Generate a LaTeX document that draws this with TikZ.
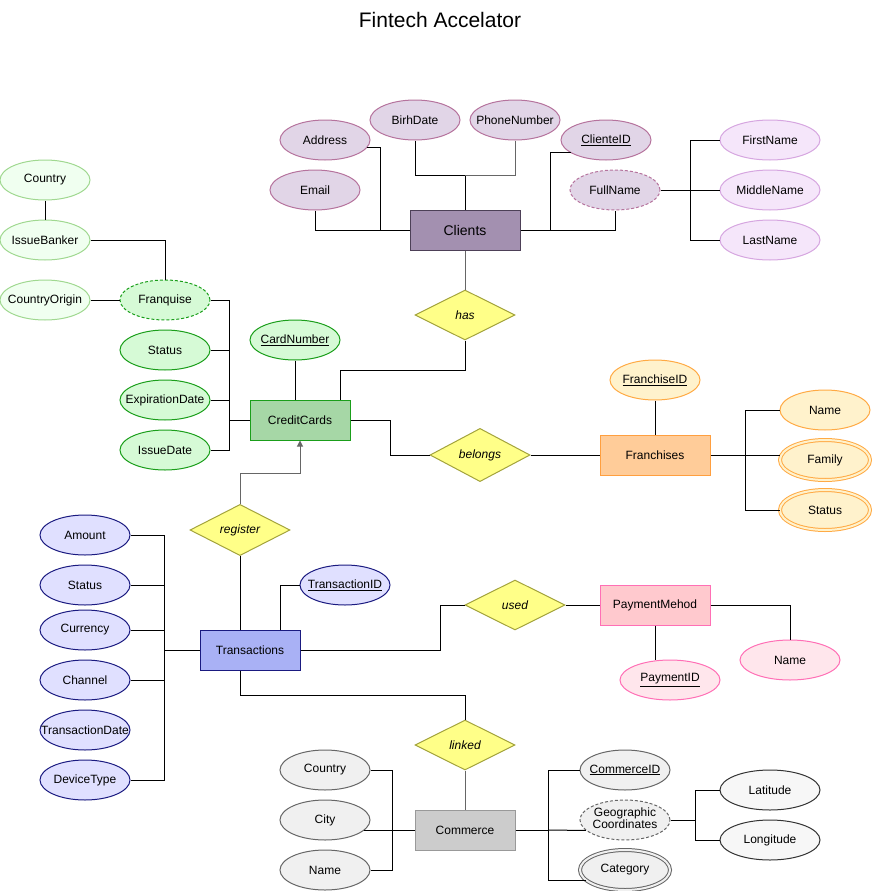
\documentclass[tikz,border=0pt]{standalone}
\usepackage{fontspec}
\setmainfont{Liberation Sans}
\usetikzlibrary{shapes.geometric,arrows.meta,calc}
\definecolor{clF}{HTML}{A390B0}\definecolor{clD}{HTML}{4D4057}
\definecolor{caF}{HTML}{E1D5E7}\definecolor{caD}{HTML}{B5739D}
\definecolor{fnF}{HTML}{F5E6FA}\definecolor{fnD}{HTML}{D6A6E0}
\definecolor{relF}{HTML}{FFFF88}\definecolor{relD}{HTML}{A3A33C}
\definecolor{ccF}{HTML}{A6D7A6}\definecolor{ccD}{HTML}{1A9E1A}
\definecolor{gaF}{HTML}{D6FAD6}
\definecolor{lgF}{HTML}{F0FFF0}\definecolor{lgD}{HTML}{A0D890}
\definecolor{frF}{HTML}{FFCC99}\definecolor{frD}{HTML}{FF9F3F}
\definecolor{faF}{HTML}{FFF2CC}\definecolor{faD}{HTML}{FFAA44}
\definecolor{trF}{HTML}{A9B1F5}\definecolor{trD}{HTML}{1A1A80}
\definecolor{taF}{HTML}{E0E0FF}
\definecolor{pmF}{HTML}{FFC9CE}\definecolor{pmD}{HTML}{FF6FB5}
\definecolor{paF}{HTML}{FFE6EC}
\definecolor{cmF}{HTML}{CCCCCC}\definecolor{cmD}{HTML}{999999}
\definecolor{maF}{HTML}{F0F0F0}\definecolor{maD}{HTML}{666666}
\definecolor{llF}{HTML}{F7F7F7}\definecolor{llD}{HTML}{333333}
\newcommand{\mb}[1]{\makebox[0pt][c]{#1}}
\begin{document}
\begin{tikzpicture}[x=1pt,y=-1pt,line width=1pt,font=\fontsize{12}{14}\selectfont,
  attr/.style={ellipse,minimum width=90,minimum height=40,inner sep=0,draw,line width=1pt},
  wattr/.style={attr,minimum width=100},
  ent/.style={rectangle,minimum width=100,minimum height=40,inner sep=0,draw,line width=1pt},
  rel/.style={diamond,minimum width=100,minimum height=50,inner sep=0,draw=relD,fill=relF,line width=1pt,font=\fontsize{12}{14}\selectfont\itshape},
  dsh/.style={dash pattern=on 3pt off 2pt},
  dbl/.style={double=#1,double distance=2pt,line width=1pt},
  conn/.style={line width=1pt,draw=black},
  gconn/.style={line width=1pt,draw=black!60}]
\useasboundingbox (0,0) rectangle (872,891);
\node[font=\fontsize{21}{24}\selectfont] (title) at (440,20) {Fintech Accelator};

% Clients
\node[ent,minimum width=110,fill=clF,draw=clD,font=\fontsize{14}{16}\selectfont] (clients) at (465,230) {Clients};
\node[attr,fill=caF,draw=caD] (address) at (325,140) {\mb{Address}};
\node[attr,fill=caF,draw=caD] (birhdate) at (415,120) {\mb{BirhDate}};
\node[attr,fill=caF,draw=caD] (phone) at (515,120) {\mb{PhoneNumber}};
\node[attr,fill=caF,draw=caD] (clienteid) at (606,140) {\mb{\underline{ClienteID}}};
\node[attr,fill=caF,draw=caD] (email) at (315,190) {\mb{Email}};
\node[attr,fill=caF,draw=caD,dsh] (fullname) at (615,190) {\mb{FullName}};
\node[wattr,fill=fnF,draw=fnD] (firstname) at (770,140) {\mb{FirstName}};
\node[wattr,fill=fnF,draw=fnD] (middlename) at (770,190) {\mb{MiddleName}};
\node[wattr,fill=fnF,draw=fnD] (lastname) at (770,240) {\mb{LastName}};
\coordinate (ctop) at (465,175);
\draw[conn] (email.south) |- (clients.west);
\draw[conn] (address.350) -- ++(13,0) |- (clients.west);
\draw[conn] (birhdate.south) |- (ctop) -- (clients.north);
\draw[gconn] (phone.south) |- (ctop);
\draw[conn] (clients.east) -- ++(30,0) |- (clienteid.200);
\draw[conn] (fullname.south) |- (clients.east);
\draw[conn] (fullname.east) -- ++(30,0) coordinate (fnb);
\draw[conn] (fnb) |- (firstname.west);
\draw[conn] (fnb) |- (lastname.west);
\draw[conn] (fnb) -- (middlename.west);

% has
\node[rel] (has) at (465,315) {has};
\draw[gconn] (clients.south) -- (has.north);

% CreditCards
\node[ent,fill=ccF,draw=ccD] (cc) at (300,420) {CreditCards};
\draw[conn] (has.south) -- ++(0,30) -| ([xshift=40pt]cc.north);
\node[attr,fill=gaF,draw=ccD] (cardnumber) at (295,340) {\mb{\underline{CardNumber}}};
\draw[conn] (cardnumber.south) -- (cardnumber.south |- cc.north);
\node[attr,fill=gaF,draw=ccD,dsh] (franquise) at (165,300) {\mb{Franquise}};
\node[attr,fill=gaF,draw=ccD] (cstatus) at (165,350) {\mb{Status}};
\node[attr,fill=gaF,draw=ccD] (expdate) at (165,400) {\mb{ExpirationDate}};
\node[attr,fill=gaF,draw=ccD] (issuedate) at (165,450) {\mb{IssueDate}};
\node[attr,fill=lgF,draw=lgD] (country1) at (45,180) {\mb{Country}};
\node[attr,fill=lgF,draw=lgD] (issuebanker) at (45,240) {\mb{IssueBanker}};
\node[attr,fill=lgF,draw=lgD] (countryorigin) at (45,300) {\mb{CountryOrigin}};
\draw[conn] (cc.west) -- ++(-20,0) coordinate (ccb);
\draw[conn] (ccb) |- (franquise.east);
\draw[conn] (ccb) |- (issuedate.east);
\draw[conn] (cstatus.east) -| (ccb);
\draw[conn] (expdate.east) -| (ccb);
\draw[conn] (country1.south) -- (issuebanker.north);
\draw[conn] (issuebanker.east) -| (franquise.north);
\draw[conn] (countryorigin.east) -- (franquise.west);

% belongs / Franchises
\node[rel] (belongs) at (480,455) {belongs};
\node[ent,minimum width=110,fill=frF,draw=frD] (fr) at (655,455) {Franchises};
\draw[conn] (cc.east) -- ++(40,0) |- (belongs.west);
\draw[conn] (belongs.east) -- (fr.west);
\node[attr,fill=faF,draw=faD] (frid) at (655,380) {\mb{\underline{FranchiseID}}};
\draw[conn] (frid.south) -- (fr.north);
\node[attr,fill=faF,draw=faD] (frname) at (825,410) {\mb{Name}};
\node[attr,fill=faF,draw=faD,dbl=faF] (family) at (825,460) {\mb{Family}};
\node[attr,fill=faF,draw=faD,dbl=faF] (frstatus) at (825,510) {\mb{Status}};
\draw[conn] (fr.east) -- ++(35,0) coordinate (frb);
\draw[conn] (frb) |- (frname.west);
\draw[conn] (frb) |- (frstatus.west);
\draw[conn] (frb) -- (family.west |- frb);

% register / Transactions
\node[rel] (register) at (240,530) {register};
\node[ent,fill=trF,draw=trD] (tr) at (250,650) {Transactions};
\draw[gconn,-{Triangle[length=6pt,width=6pt]}] (register.north) -- ++(0,-30) -| (cc.south);
\draw[conn] (register.south) -- (register.south |- tr.north);
\node[attr,fill=taF,draw=trD] (trid) at (345,585) {\mb{\underline{TransactionID}}};
\draw[conn] ([xshift=30pt]tr.north) |- (trid.west);
\node[attr,fill=taF,draw=trD] (amount) at (85,535) {\mb{Amount}};
\node[attr,fill=taF,draw=trD] (tstatus) at (85,585) {\mb{Status}};
\node[attr,fill=taF,draw=trD] (currency) at (85,630) {\mb{Currency}};
\node[attr,fill=taF,draw=trD] (channel) at (85,680) {\mb{Channel}};
\node[attr,fill=taF,draw=trD] (trdate) at (85,730) {\mb{TransactionDate}};
\node[attr,fill=taF,draw=trD] (devicetype) at (85,780) {\mb{DeviceType}};
\draw[conn] (tr.west) -- ++(-35,0) coordinate (trb);
\draw[conn] (trb) |- (amount.east);
\draw[conn] (trb) |- (devicetype.east);
\draw[conn] (tstatus.east) -| (trb);
\draw[conn] (currency.east) -| (trb);
\draw[conn] (channel.east) -| (trb);

% used / PaymentMehod
\node[rel] (used) at (515,605) {used};
\node[ent,minimum width=110,fill=pmF,draw=pmD] (pm) at (655,605) {PaymentMehod};
\draw[conn] (tr.east) -- ++(140,0) |- (used.west);
\draw[conn] (used.east) -- (pm.west);
\node[wattr,fill=paF,draw=pmD] (paymentid) at (670,680) {\mb{\underline{PaymentID}}};
\node[wattr,fill=paF,draw=pmD] (pmname) at (790,660) {\mb{Name}};
\draw[conn] (pm.south) -- (pm.south |- paymentid.north);
\draw[conn] (pm.east) -| (pmname.north);

% linked / Commerce
\node[rel] (linked) at (465,745) {linked};
\node[ent,fill=cmF,draw=cmD] (commerce) at (465,830) {Commerce};
\draw[conn] ([xshift=-10pt]tr.south) -- ++(0,25) -| (linked.north);
\draw[gconn] (linked.south) -- (commerce.north);
\node[attr,fill=maF,draw=maD] (country3) at (325,770) {\mb{Country}};
\node[attr,fill=maF,draw=maD] (city) at (325,820) {\mb{City}};
\node[attr,fill=maF,draw=maD] (cname) at (325,870) {\mb{Name}};
\draw[conn] (country3.east) -- ++(22,0) |- (cname.east);
\draw[conn] (city.345) -- (commerce.west |- city.345);
\node[attr,fill=maF,draw=maD] (commerceid) at (625,770) {\mb{\underline{CommerceID}}};
\node[attr,fill=maF,draw=maD,dsh,inner ysep=-2pt] (geo) at (625,820) {\mb{\begin{tabular}{@{}c@{}}Geographic\\[-2pt]Coordinates\end{tabular}}};
\node[attr,fill=maF,draw=maD,dbl=maF] (category) at (625,870) {\mb{Category}};
\draw[conn] (commerce.east) -- ++(33,0) coordinate (cmr);
\draw[conn] (cmr) |- (commerceid.west);
\draw[conn] (cmr) |- (category.195);
\draw[conn] (cmr) -- (geo.195);
\node[wattr,fill=llF,draw=llD] (latitude) at (770,790) {\mb{Latitude}};
\node[wattr,fill=llF,draw=llD] (longitude) at (770,840) {\mb{Longitude}};
\draw[conn] (geo.east) -- ++(25,0) coordinate (gb);
\draw[conn] (gb) |- (latitude.west);
\draw[conn] (gb) |- (longitude.west);
\end{tikzpicture}
\end{document}
